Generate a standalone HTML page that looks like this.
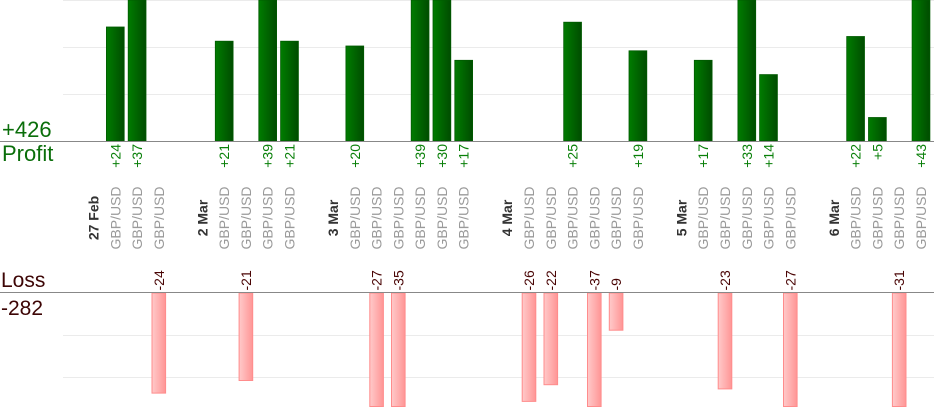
<!DOCTYPE html>
<html>
<head>
<meta charset="utf-8">
<style>
  html, body { margin: 0; padding: 0; background: #ffffff; }
  body { width: 934px; height: 420px; overflow: hidden; }
  svg { display: block; }
  text { font-family: "Liberation Sans", Arial, sans-serif; }
  .pl { font-size: 14px; fill: #0a800a; }
  .ll { font-size: 14px; fill: #4a0505; }
  .cat { font-size: 14px; fill: #9a9a9a; }
  .dt { font-size: 14px; font-weight: bold; fill: #333333; }
</style>
</head>
<body>
<svg width="934" height="420" viewBox="0 0 934 420" xmlns="http://www.w3.org/2000/svg">
  <defs>
    <linearGradient id="gp" x1="0" y1="0" x2="1" y2="0">
      <stop offset="0" stop-color="#007c00"/>
      <stop offset="1" stop-color="#004c00"/>
    </linearGradient>
    <linearGradient id="gl" x1="0" y1="0" x2="1" y2="0">
      <stop offset="0" stop-color="#ffcaca"/>
      <stop offset="1" stop-color="#ff9595"/>
    </linearGradient>
  </defs>

  <!-- gridlines -->
  <g stroke="#ebebeb" stroke-width="1">
    <line x1="63" y1="0.5" x2="934" y2="0.5"/>
    <line x1="63" y1="47.5" x2="934" y2="47.5"/>
    <line x1="63" y1="94.5" x2="934" y2="94.5"/>
    <line x1="63" y1="335.5" x2="934" y2="335.5"/>
    <line x1="63" y1="377.5" x2="934" y2="377.5"/>
  </g>

  <!-- profit bars -->
  <g fill="url(#gp)" stroke="#005a00" stroke-width="0.8">
    <rect x="106.4" y="27" width="17.8" height="114"/>
    <rect x="128.2" y="0" width="17.8" height="141"/>
    <rect x="215.3" y="41.2" width="17.8" height="99.8"/>
    <rect x="258.8" y="0" width="17.8" height="141"/>
    <rect x="280.6" y="41.2" width="17.8" height="99.8"/>
    <rect x="345.9" y="46" width="17.8" height="95"/>
    <rect x="411.2" y="0" width="17.8" height="141"/>
    <rect x="433.0" y="0" width="17.8" height="141"/>
    <rect x="454.8" y="60.3" width="17.8" height="80.7"/>
    <rect x="563.7" y="22.2" width="17.8" height="118.8"/>
    <rect x="629.0" y="50.8" width="17.8" height="90.2"/>
    <rect x="694.3" y="60.3" width="17.8" height="80.7"/>
    <rect x="737.9" y="0" width="17.8" height="141"/>
    <rect x="759.6" y="74.6" width="17.8" height="66.4"/>
    <rect x="846.7" y="36.5" width="17.8" height="104.5"/>
    <rect x="868.5" y="117.5" width="17.8" height="23.5"/>
    <rect x="912.1" y="0" width="17.8" height="141"/>
  </g>

  <!-- loss bars -->
  <g fill="url(#gl)" stroke="#ff8c8c" stroke-width="1">
    <rect x="152.0" y="293" width="13.6" height="100.1"/>
    <rect x="239.1" y="293" width="13.6" height="87.5"/>
    <rect x="369.8" y="293" width="13.6" height="113.5"/>
    <rect x="391.5" y="293" width="13.6" height="113.5"/>
    <rect x="522.2" y="293" width="13.6" height="108.4"/>
    <rect x="544.0" y="293" width="13.6" height="91.7"/>
    <rect x="587.5" y="293" width="13.6" height="113.5"/>
    <rect x="609.3" y="293" width="13.6" height="37.2"/>
    <rect x="718.2" y="293" width="13.6" height="95.9"/>
    <rect x="783.5" y="293" width="13.6" height="113.5"/>
    <rect x="892.4" y="293" width="13.6" height="113.5"/>
  </g>

  <!-- baselines -->
  <line x1="0" y1="141.5" x2="934" y2="141.5" stroke="#888888" stroke-width="1"/>
  <line x1="0" y1="292.5" x2="934" y2="292.5" stroke="#888888" stroke-width="1"/>

  <!-- big labels -->
  <text x="2" y="137" style="font-size:22px;fill:#0a6e0a">+426</text>
  <text x="2" y="161" style="font-size:22px;fill:#0a6e0a">Profit</text>
  <text x="1" y="287" style="font-size:21px;fill:#3d0505">Loss</text>
  <text x="1" y="315" style="font-size:21px;fill:#3d0505">-282</text>

  <!-- profit value labels (end at top, near baseline) -->
  <g class="pl" text-anchor="end">
    <text transform="translate(120.3,144) rotate(-90)">+24</text>
    <text transform="translate(142.1,144) rotate(-90)">+37</text>
    <text transform="translate(229.2,144) rotate(-90)">+21</text>
    <text transform="translate(272.7,144) rotate(-90)">+39</text>
    <text transform="translate(294.5,144) rotate(-90)">+21</text>
    <text transform="translate(359.8,144) rotate(-90)">+20</text>
    <text transform="translate(425.1,144) rotate(-90)">+39</text>
    <text transform="translate(446.9,144) rotate(-90)">+30</text>
    <text transform="translate(468.7,144) rotate(-90)">+17</text>
    <text transform="translate(577.6,144) rotate(-90)">+25</text>
    <text transform="translate(642.9,144) rotate(-90)">+19</text>
    <text transform="translate(708.2,144) rotate(-90)">+17</text>
    <text transform="translate(751.8,144) rotate(-90)">+33</text>
    <text transform="translate(773.5,144) rotate(-90)">+14</text>
    <text transform="translate(860.6,144) rotate(-90)">+22</text>
    <text transform="translate(882.4,144) rotate(-90)">+5</text>
    <text transform="translate(926.0,144) rotate(-90)">+43</text>
  </g>

  <!-- loss value labels (start at bottom, near baseline) -->
  <g class="ll" text-anchor="start">
    <text transform="translate(163.8,290.5) rotate(-90)">-24</text>
    <text transform="translate(250.9,290.5) rotate(-90)">-21</text>
    <text transform="translate(381.6,290.5) rotate(-90)">-27</text>
    <text transform="translate(403.4,290.5) rotate(-90)">-35</text>
    <text transform="translate(534.0,290.5) rotate(-90)">-26</text>
    <text transform="translate(555.8,290.5) rotate(-90)">-22</text>
    <text transform="translate(599.3,290.5) rotate(-90)">-37</text>
    <text transform="translate(621.1,290.5) rotate(-90)">-9</text>
    <text transform="translate(730.0,290.5) rotate(-90)">-23</text>
    <text transform="translate(795.3,290.5) rotate(-90)">-27</text>
    <text transform="translate(904.2,290.5) rotate(-90)">-31</text>
  </g>

  <!-- date labels -->
  <g class="dt" text-anchor="middle">
    <text transform="translate(98.5,218) rotate(-90)">27 Feb</text>
    <text transform="translate(207.4,218) rotate(-90)">2 Mar</text>
    <text transform="translate(338.0,218) rotate(-90)">3 Mar</text>
    <text transform="translate(512.2,218) rotate(-90)">4 Mar</text>
    <text transform="translate(686.4,218) rotate(-90)">5 Mar</text>
    <text transform="translate(838.9,218) rotate(-90)">6 Mar</text>
  </g>

  <!-- instrument labels -->
  <g class="cat" text-anchor="middle">
    <text transform="translate(120.3,218) rotate(-90)">GBP/USD</text>
    <text transform="translate(142.1,218) rotate(-90)">GBP/USD</text>
    <text transform="translate(163.8,218) rotate(-90)">GBP/USD</text>

    <text transform="translate(229.2,218) rotate(-90)">GBP/USD</text>
    <text transform="translate(250.9,218) rotate(-90)">GBP/USD</text>
    <text transform="translate(272.7,218) rotate(-90)">GBP/USD</text>
    <text transform="translate(294.5,218) rotate(-90)">GBP/USD</text>

    <text transform="translate(359.8,218) rotate(-90)">GBP/USD</text>
    <text transform="translate(381.6,218) rotate(-90)">GBP/USD</text>
    <text transform="translate(403.4,218) rotate(-90)">GBP/USD</text>
    <text transform="translate(425.1,218) rotate(-90)">GBP/USD</text>
    <text transform="translate(446.9,218) rotate(-90)">GBP/USD</text>
    <text transform="translate(468.7,218) rotate(-90)">GBP/USD</text>

    <text transform="translate(534.0,218) rotate(-90)">GBP/USD</text>
    <text transform="translate(555.8,218) rotate(-90)">GBP/USD</text>
    <text transform="translate(577.6,218) rotate(-90)">GBP/USD</text>
    <text transform="translate(599.3,218) rotate(-90)">GBP/USD</text>
    <text transform="translate(621.1,218) rotate(-90)">GBP/USD</text>
    <text transform="translate(642.9,218) rotate(-90)">GBP/USD</text>

    <text transform="translate(708.2,218) rotate(-90)">GBP/USD</text>
    <text transform="translate(730.0,218) rotate(-90)">GBP/USD</text>
    <text transform="translate(751.8,218) rotate(-90)">GBP/USD</text>
    <text transform="translate(773.5,218) rotate(-90)">GBP/USD</text>
    <text transform="translate(795.3,218) rotate(-90)">GBP/USD</text>

    <text transform="translate(860.6,218) rotate(-90)">GBP/USD</text>
    <text transform="translate(882.4,218) rotate(-90)">GBP/USD</text>
    <text transform="translate(904.2,218) rotate(-90)">GBP/USD</text>
    <text transform="translate(926.0,218) rotate(-90)">GBP/USD</text>
  </g>
</svg>
</body>
</html>
